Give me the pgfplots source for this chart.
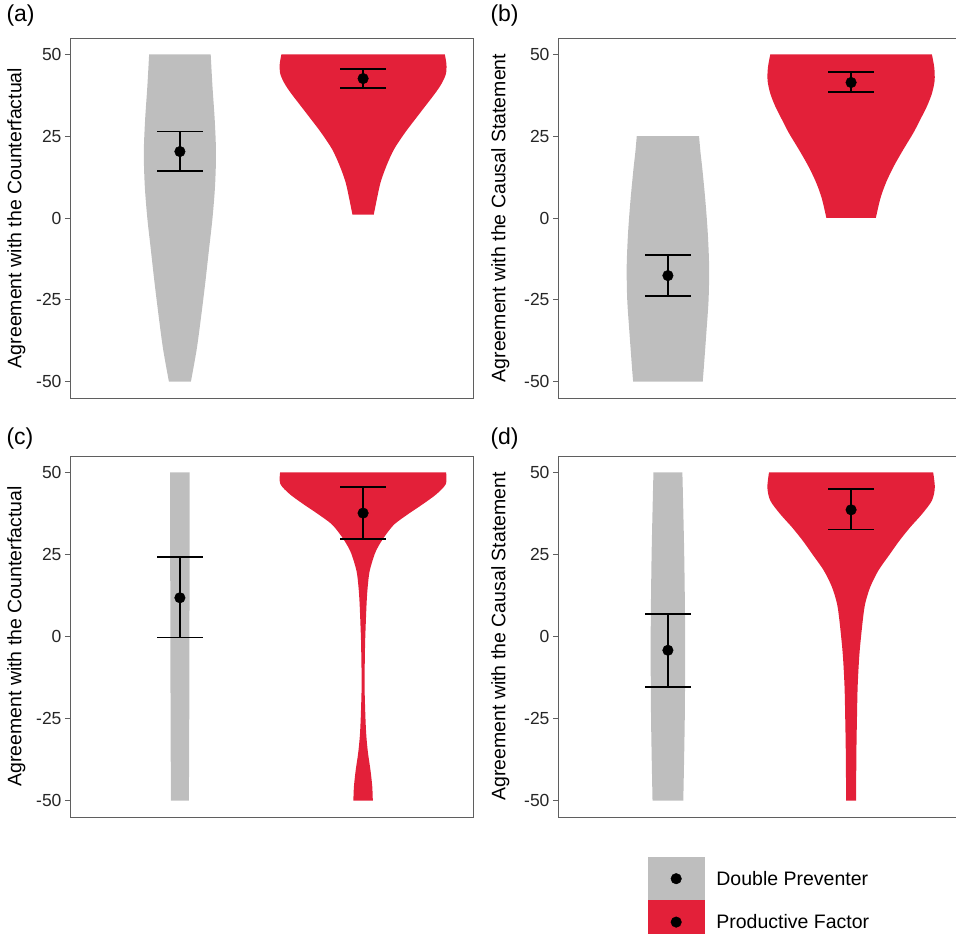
\documentclass[border=0pt]{standalone}
\usepackage{pgfplots}
\usepackage{pgfplotstable}
\pgfplotsset{compat=1.18}
\usepgfplotslibrary{fillbetween}
\usepackage{fontspec}
\setmainfont{Liberation Sans}
\definecolor{vgray}{RGB}{190,190,190}
\definecolor{vred}{RGB}{227,32,57}
\definecolor{framecol}{RGB}{95,95,95}

% ---------- panel (a) ----------
\pgfplotstableread{
y w
50 0.168
40 0.178
30 0.190
20 0.197
10 0.192
0 0.178
-10 0.158
-20 0.138
-30 0.116
-40 0.092
-50 0.060
}\aGray
\pgfplotstableread{
y w
50 0.446
47 0.455
44 0.452
41 0.428
38 0.392
34 0.337
30 0.282
26 0.228
21 0.169
16 0.128
11 0.096
6 0.076
1 0.058
}\aRed
\pgfplotstableread{
x y ep em
1 20.3 6.1 5.9
2 42.6 3.0 3.0
}\aMean
% ---------- panel (b) ----------
\pgfplotstableread{
y w
25 0.170
20 0.178
15 0.188
5 0.205
-5 0.218
-15 0.225
-25 0.222
-35 0.210
-45 0.197
-50 0.190
}\bGray
\pgfplotstableread{
y w
50 0.441
46 0.454
42 0.456
38 0.441
34 0.413
30 0.377
26 0.340
21 0.286
16 0.235
11 0.192
6 0.160
0 0.135
}\bRed
\pgfplotstableread{
x y ep em
1 -17.6 6.3 6.3
2 41.4 3.2 3.0
}\bMean
% ---------- panel (c) ----------
\pgfplotstableread{
y w
50 0.053
25 0.053
0 0.052
-25 0.051
-50 0.049
}\cGray
\pgfplotstableread{
y w
50 0.453
46.5 0.452
43.4 0.401
40.4 0.328
37.3 0.246
34.3 0.173
31.3 0.128
28.2 0.091
25.2 0.064
20 0.036
15 0.025
10 0.019
0 0.012
-5 0.010
-15 0.008
-25 0.013
-30.5 0.018
-35.6 0.027
-40.6 0.040
-45.7 0.050
-50 0.053
}\cRed
\pgfplotstableread{
x y ep em
1 11.8 12.4 12.1
2 37.6 8.0 7.8
}\cMean
% ---------- panel (d) ----------
\pgfplotstableread{
y w
50 0.079
25 0.089
0 0.094
-25 0.092
-50 0.084
}\dGray
\pgfplotstableread{
y w
50 0.448
45.4 0.457
41.4 0.441
37.3 0.387
33.3 0.323
29.2 0.264
25.2 0.213
20.1 0.149
15 0.104
10 0.077
5 0.064
-5 0.046
-15 0.036
-25 0.032
-35 0.029
-50 0.027
}\dRed
\pgfplotstableread{
x y ep em
1 -4.2 11.1 11.1
2 38.6 6.3 6.0
}\dMean

\newcommand{\violin}[4]{% table, center, colour, id
  \addplot[draw=none, smooth, forget plot, name path=L#4] table[x expr={#2-\thisrow{w}}, y=y]{#1};
  \addplot[draw=none, smooth, forget plot, name path=R#4] table[x expr={#2+\thisrow{w}}, y=y]{#1};
  \addplot[fill=#3, draw=none, forget plot] fill between[of=L#4 and R#4, reverse=true];
}
\newcommand{\means}[1]{%
  \addplot[only marks, forget plot, mark=*, mark size=5.3pt, black,
    error bars/.cd, y dir=both, y explicit,
    error bar style={line width=1.8pt, black},
    error mark options={rotate=90, mark size=22.7pt, line width=1.8pt, black}]
    table[x=x, y=y, y error plus=ep, y error minus=em]{#1};
}

\pgfplotsset{
  violinaxis/.style={
    scale only axis, width=403pt, height=360pt,
    xmin=0.4, xmax=2.6, ymin=-55, ymax=55,
    xtick=\empty, ytick={-50,-25,0,25,50}, yticklabels={-50,-25,0,25,50},
    ytick pos=left,
    axis line style={framecol, line width=0.9pt},
    tick align=outside, major tick length=5pt,
    major tick style={framecol, line width=0.9pt},
    yticklabel style={font=\fontsize{17.5}{20}\selectfont, text=black!85},
    ylabel style={font=\fontsize{19.5}{22}\selectfont, text=black, anchor=south},
    title style={font=\fontsize{23}{27}\selectfont, anchor=base west, inner sep=0pt},
  }
}

\begin{document}
\begin{tikzpicture}
% (a)
\begin{axis}[violinaxis, at={(70pt,536pt)}, anchor=south west,
  title={(a)}, title style={at={(axis description cs:-0.158,1.030)}},
  ylabel={Agreement with the Counterfactual},
  ylabel style={at={(axis description cs:-0.102,0.5)}}]
\violin{\aGray}{1}{vgray}{a1}
\violin{\aRed}{2}{vred}{a2}
\means{\aMean}
\end{axis}

% (b)
\begin{axis}[violinaxis, at={(558pt,536pt)}, anchor=south west,
  title={(b)}, title style={at={(axis description cs:-0.168,1.030)}},
  ylabel={Agreement with the Causal Statement},
  ylabel style={at={(axis description cs:-0.112,0.5)}}]
\violin{\bGray}{1}{vgray}{b1}
\violin{\bRed}{2}{vred}{b2}
\means{\bMean}
\end{axis}

% (c)
\begin{axis}[violinaxis, at={(70pt,117pt)}, height=361pt, anchor=south west,
  title={(c)}, title style={at={(axis description cs:-0.158,1.014)}},
  ylabel={Agreement with the Counterfactual},
  ylabel style={at={(axis description cs:-0.102,0.5)}}]
\violin{\cGray}{1}{vgray}{c1}
\violin{\cRed}{2}{vred}{c2}
\means{\cMean}
\end{axis}

% (d)
\begin{axis}[violinaxis, at={(558pt,117pt)}, height=361pt, anchor=south west,
  title={(d)}, title style={at={(axis description cs:-0.168,1.014)}},
  ylabel={Agreement with the Causal Statement},
  ylabel style={at={(axis description cs:-0.112,0.5)}},
  legend style={at={(axis description cs:0.2233,-0.1108)}, anchor=north west,
    draw=none, fill=none, inner sep=0pt, outer sep=0pt,
    row sep=0pt, column sep=12pt,
    nodes={inner sep=0pt, anchor=west},
    font=\fontsize{19.5}{22}\selectfont}]
\violin{\dGray}{1}{vgray}{d1}
\violin{\dRed}{2}{vred}{d2}
\means{\dMean}
\addlegendimage{legend image code/.code={
  \fill[vgray] (0pt,-21.5pt) rectangle (56pt,21.5pt);
  \fill[black] (28pt,0pt) circle (5.3pt);}}
\addlegendentry{Double Preventer}
\addlegendimage{legend image code/.code={
  \fill[vred] (0pt,-21.5pt) rectangle (56pt,21.5pt);
  \fill[black] (28pt,0pt) circle (5.3pt);}}
\addlegendentry{Productive Factor}
\end{axis}
\pgfresetboundingbox
\path (0pt,0pt) rectangle (956pt,934pt);
\end{tikzpicture}
\end{document}
